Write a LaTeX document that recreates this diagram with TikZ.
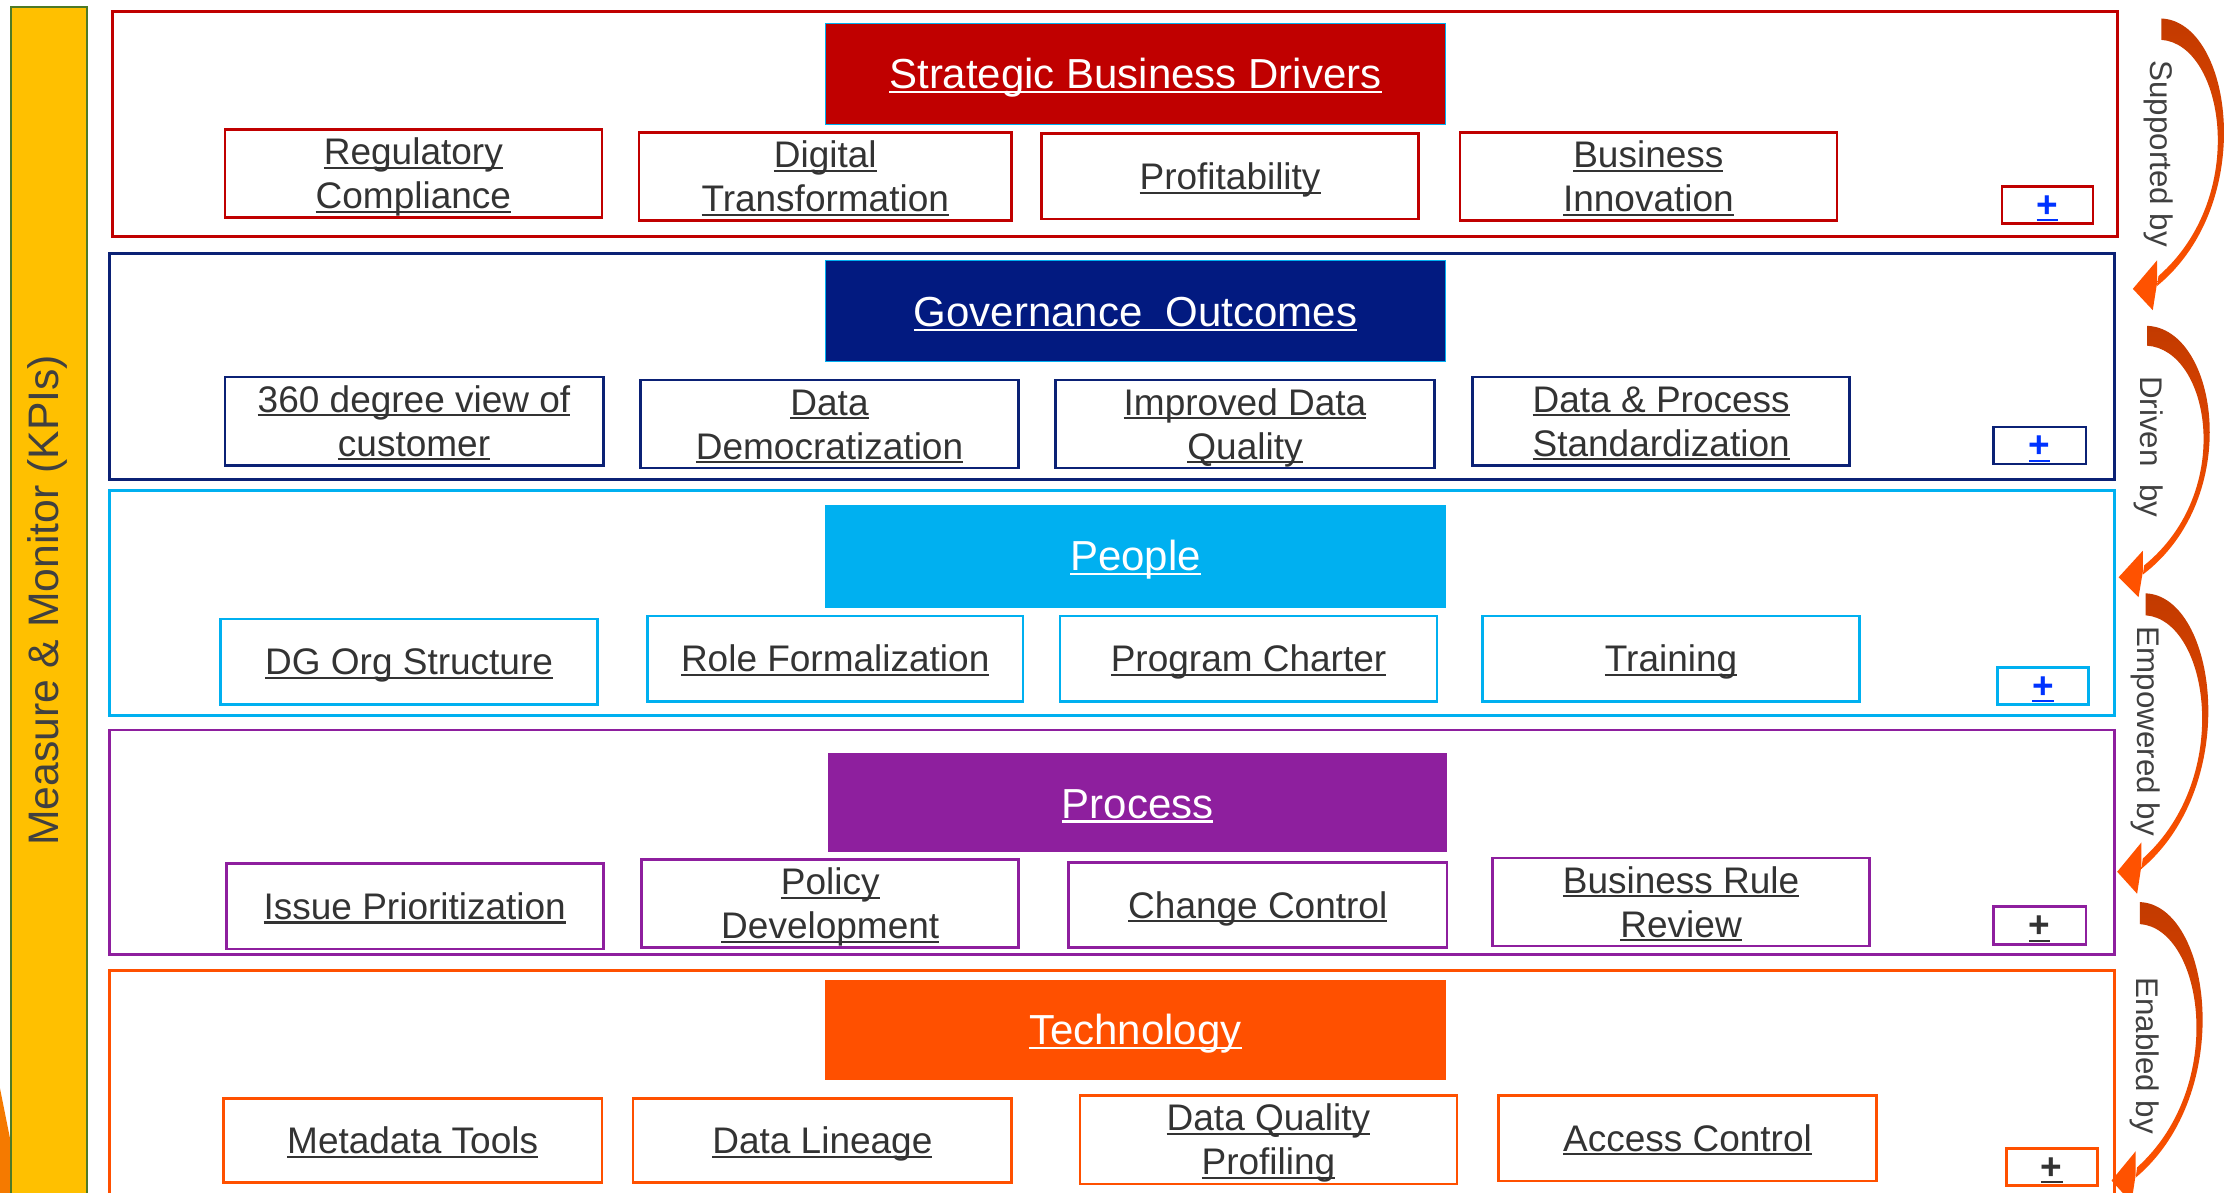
\documentclass[tikz,border=0pt]{standalone}
\usepackage{fontspec}
\setmainfont{Liberation Sans}
\definecolor{cred}{HTML}{C00000}
\definecolor{cnavyb}{HTML}{0B2175}
\definecolor{cnavy}{HTML}{021A80}
\definecolor{ccyan}{HTML}{00B0F0}
\definecolor{cpurp}{HTML}{8E1F9E}
\definecolor{corng}{HTML}{FF5000}
\definecolor{cyel}{HTML}{FFC000}
\definecolor{cgreen}{HTML}{4E7A27}
\definecolor{txt}{HTML}{333333}
\definecolor{lbl}{HTML}{404040}
\definecolor{cblue}{HTML}{0033FF}
\definecolor{arrdark}{HTML}{C23A00}
\definecolor{arrlight}{HTML}{FF5200}
\definecolor{sliver}{HTML}{F57A00}
\newcommand\myul[1]{\setbox0=\hbox{#1}\rlap{\rule[-0.11em]{\wd0}{0.055em}}\box0}
\newcommand\lowr[1]{\raisebox{-3pt}[\height][\depth]{\begin{tabular}{@{}c@{}}#1\end{tabular}}}
\newcommand\lowh[1]{\raisebox{-2.5pt}[\height][\depth]{#1}}
\tikzset{
  layerbox/.style={draw, line width=2pt, fill=white, inner sep=0pt},
  headbox/.style={inner sep=0pt, minimum width=436pt, minimum height=71pt, text=white, font=\fontsize{29.5}{34}\selectfont},
  subbox/.style={draw, line width=1.8pt, fill=white, inner sep=0pt, minimum width=265pt, minimum height=60pt, text=txt, font=\fontsize{26}{31}\selectfont},
  plusbox/.style={draw, line width=1.8pt, fill=white, inner sep=0pt, minimum width=64pt, minimum height=26pt, font=\fontsize{26}{26}\selectfont\bfseries},
  sidelabel/.style={rotate=-90, text=lbl, font=\fontsize{22}{26}\selectfont},
  curvearrow/.pic={
    \path[top color=arrdark, bottom color=arrlight]
      (0,0) .. controls (50,2) and (68,130) .. (-3,188) -- (-2,181)
      .. controls (62,125) and (44,18) .. (0,15) -- cycle;
    \fill[arrlight] (-20,190) -- (-3,170) -- (-3,186) -- (-6,205) -- cycle;
  }
}
\begin{document}
\begin{tikzpicture}[x=1pt,y=-1pt]
\useasboundingbox (0,0) rectangle (1568,838);
\clip (0,0) rectangle (1568,838);
\fill[white] (0,0) rectangle (1568,838);

% left bar
\fill[sliver] (0,765) -- (8,805) -- (8,845) -- (0,845) -- cycle;
\node[draw=cgreen, line width=1.5pt, fill=cyel, minimum width=53pt, minimum height=840pt, inner sep=0pt] (kpibar) at (34.5,425) {};
\node[rotate=90, text=lbl, font=\fontsize{30}{36}\selectfont] (kpitext) at (33,422) {Measure \& Monitor (KPIs)};

% layer 1
\node[layerbox, draw=cred, minimum width=1409pt, minimum height=158pt] (L1) at (783.5,87) {};
\node[headbox, fill=cred, draw=ccyan, line width=1pt] (H1) at (798,52) {\lowh{\myul{Strategic Business Drivers}}};
\node[subbox, draw=cred] (s11) at (290.5,122) {\lowr{\myul{Regulatory}\\\myul{Compliance}}};
\node[subbox, draw=cred, minimum width=262pt] (s12) at (580,124) {\lowr{\myul{Digital}\\\myul{Transformation}}};
\node[subbox, draw=cred] (s13) at (864.5,124) {\lowr{\myul{Profitability}}};
\node[subbox, draw=cred] (s14) at (1158.5,124) {\lowr{\myul{Business}\\\myul{Innovation}}};
\node[plusbox, draw=cred, text=cblue] (p1) at (1439,144) {\lowh{\myul{+}}};

% layer 2
\node[layerbox, draw=cnavyb, minimum width=1409pt, minimum height=159pt] (L2) at (781.5,257.5) {};
\node[headbox, fill=cnavy, draw=ccyan, line width=1pt] (H2) at (798,218.5) {\lowh{\myul{Governance\ \ Outcomes}}};
\node[subbox, draw=cnavyb, minimum width=266pt] (s21) at (291,296) {\lowr{\myul{360 degree view of}\\\myul{customer}}};
\node[subbox, draw=cnavyb, minimum width=266pt] (s22) at (583,298) {\lowr{\myul{Data}\\\myul{Democratization}}};
\node[subbox, draw=cnavyb, minimum width=266pt] (s23) at (875,298) {\lowr{\myul{Improved Data}\\\myul{Quality}}};
\node[subbox, draw=cnavyb] (s24) at (1167.5,296) {\lowr{\myul{Data \& Process}\\\myul{Standardization}}};
\node[plusbox, draw=cnavyb, text=cblue, minimum width=65pt] (p2) at (1433.5,313) {\lowh{\myul{+}}};

% layer 3
\node[layerbox, draw=ccyan, minimum width=1409pt, minimum height=158pt] (L3) at (781.5,424) {};
\node[headbox, fill=ccyan, minimum height=72pt] (H3) at (798,391) {\lowh{\myul{People}}};
\node[subbox, draw=ccyan] (s31) at (287.5,465) {\lowr{\myul{DG Org Structure}}};
\node[subbox, draw=ccyan, minimum width=264pt] (s32) at (587,463) {\lowr{\myul{Role Formalization}}};
\node[subbox, draw=ccyan] (s33) at (877.5,463) {\lowr{\myul{Program Charter}}};
\node[subbox, draw=ccyan] (s34) at (1174.5,463) {\lowr{\myul{Training}}};
\node[plusbox, draw=ccyan, text=cblue] (p3) at (1436,482) {\lowh{\myul{+}}};

% layer 4
\node[layerbox, draw=cpurp, minimum width=1409pt, minimum height=158pt] (L4) at (781.5,592) {};
\node[headbox, fill=cpurp, minimum width=435pt, minimum height=70pt] (H4) at (799.5,564) {\lowh{\myul{Process}}};
\node[subbox, draw=cpurp] (s41) at (291.5,637) {\lowr{\myul{Issue Prioritization}}};
\node[subbox, draw=cpurp] (s42) at (583.5,635) {\lowr{\myul{Policy}\\\myul{Development}}};
\node[subbox, draw=cpurp, minimum width=266pt] (s43) at (884,636) {\lowr{\myul{Change Control}}};
\node[subbox, draw=cpurp] (s44) at (1181.5,634) {\lowr{\myul{Business Rule}\\\myul{Review}}};
\node[plusbox, draw=cpurp, text=txt, minimum width=65pt, minimum height=27pt] (p4) at (1433.5,650.5) {\lowh{\myul{+}}};

% layer 5
\node[layerbox, draw=corng, minimum width=1409pt, minimum height=168pt] (L5) at (781.5,766) {};
\node[headbox, fill=corng, minimum height=70pt] (H5) at (798,724) {\lowh{\myul{Technology}}};
\node[subbox, draw=corng, minimum width=266pt, minimum height=59pt] (s51) at (290,801.5) {\lowr{\myul{Metadata Tools}}};
\node[subbox, draw=corng, minimum width=266pt, minimum height=59pt] (s52) at (578,801.5) {\lowr{\myul{Data Lineage}}};
\node[subbox, draw=corng] (s53) at (891.5,801) {\lowr{\myul{Data Quality}\\\myul{Profiling}}};
\node[subbox, draw=corng, minimum width=266pt] (s54) at (1186,800) {\lowr{\myul{Access Control}}};
\node[plusbox, draw=corng, text=txt] (p5) at (1442,820) {\lowh{\myul{+}}};

% right side arrows and labels
\pic at (1519,13) {curvearrow};
\pic[yscale=0.93] at (1509,229) {curvearrow};
\pic[yscale=1.03] at (1508,417) {curvearrow};
\pic[yscale=1.03] at (1504,634) {curvearrow};
\node[sidelabel] (lab1) at (1517,108) {Supported by};
\node[sidelabel] (lab2) at (1510,314) {Driven\ \ by};
\node[sidelabel] (lab3) at (1508,514) {Empowered by};
\node[sidelabel] (lab4) at (1507,742) {Enabled by};
\end{tikzpicture}
\end{document}
